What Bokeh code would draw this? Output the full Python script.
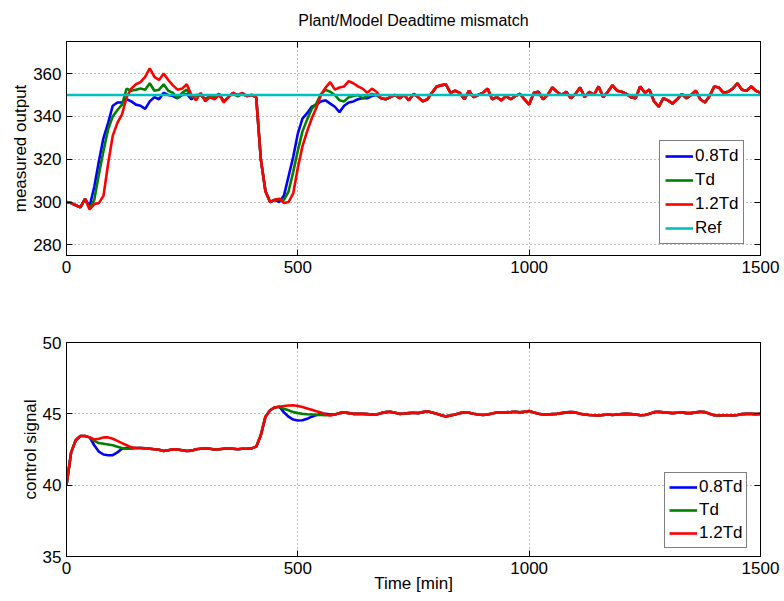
from bokeh.plotting import figure
from bokeh.models import (LinearAxis, Range1d, FixedTicker, Legend, LegendItem,
                          CustomJSTickFormatter, ColumnDataSource)
from bokeh.layouts import column
from bokeh.embed import file_html
from bokeh.resources import INLINE

# ---------------------------------------------------------------- data
# sample spacing of the logged signals [min]
STEP = 10

x_ticks = [0, 500, 1000, 1500]
y_ticks_top = [280, 300, 320, 340, 360]
y_ticks_bottom = [35, 40, 45, 50]

series_names = ["0.8Td", "Td", "1.2Td"]
reference_level = 350

# measured output, t = 0 .. 670 min
out_08td_head = [
    300, 299.5, 298.5, 297.5, 301.5, 298, 307, 319, 330, 337,
    345, 346.5, 346.5, 348, 347, 345.5, 345, 343.5, 347, 349,
    348, 351, 350, 349.5, 348.5, 350, 350.5, 348, 350, 350,
    348, 349.5, 349, 350.5, 347, 349, 351, 349.5, 350.5, 349.5,
    350, 349, 320, 305, 300, 301, 300, 303, 312, 321,
    332, 339, 341.5, 344.5, 345.5, 347, 347.5, 346, 344.5, 342,
    345, 346.5, 347, 348, 348.5, 348.5, 349.5, 350,
]
out_td_head = [
    300, 299.5, 298.5, 297.5, 301.5, 297, 301, 313, 324, 334,
    340, 343, 345.5, 353, 352, 352.5, 353, 352.5, 355.5, 352,
    352.5, 355, 352, 351, 348.5, 351, 352.5, 349, 349.5, 350,
    348, 349.5, 349, 350.5, 347, 349, 351, 349.5, 350.5, 349.5,
    350, 349, 320, 305, 300, 301, 301, 301, 305, 314,
    324, 333, 338.5, 343.5, 346, 350.5, 352.4, 351.5, 350, 347.5,
    347, 349, 349.5, 350, 348.5, 349.5, 350.5, 350,
]
out_12td_head = [
    300, 299.5, 298.5, 297.5, 301.5, 296.5, 299, 299.5, 303, 318,
    331, 337, 341, 349, 353, 355, 356, 358.5, 362.5, 358.5,
    357, 360, 357, 354.5, 352.5, 353, 355, 350, 347.5, 351,
    347, 349, 348, 350, 346.5, 349, 351, 350, 351, 349.5,
    350, 349, 320, 305, 300, 301, 301.5, 299.5, 300, 304,
    316, 326, 333, 339, 344, 350, 353.5, 356, 352.5, 353.5,
    354, 356.5, 355.5, 354, 353, 351, 353, 351.5,
]
# measured output once the loops have settled, t = 680 .. 1500 min
out_tail = [
    348.5, 348, 349, 350, 348.5, 350, 347.5, 350.5, 349, 347,
    348, 351, 354, 354.5, 355, 351, 352, 351, 348, 352,
    349, 350, 351, 353, 348, 349, 347.5, 349.5, 348, 349.5,
    350.5, 348, 345.5, 351, 351.5, 348, 350, 353.5, 351.5, 350,
    351.5, 348.5, 350.5, 353.5, 349, 351.5, 350, 354, 349, 351.5,
    354.5, 352, 351.5, 350.5, 349, 348.5, 354, 351, 352.5, 347,
    344.5, 348.5, 347.5, 346, 348, 350.5, 348.5, 350, 352, 348,
    346.5, 349.5, 354, 353.5, 351, 351.5, 353, 355.5, 352.5, 352,
    354, 352, 351,
]

# control signal, t = 0 .. 50 min
u_start = [40.0, 42.3, 43.15, 43.45, 43.45, 43.35]
# t = 60 .. 140 min
u_08td_a = [42.8, 42.35, 42.15, 42.1, 42.1, 42.3, 42.55, 42.6, 42.6]
u_td_a = [43.1, 42.95, 42.9, 42.85, 42.8, 42.7, 42.6, 42.55, 42.55]
u_12td_a = [43.2, 43.25, 43.35, 43.35, 43.25, 43.1, 42.95, 42.8, 42.65]
# t = 150 .. 460 min
u_plateau = [
    42.6, 42.6, 42.58, 42.55, 42.52, 42.48, 42.4, 42.45, 42.52, 42.5,
    42.45, 42.4, 42.42, 42.52, 42.55, 42.58, 42.55, 42.5, 42.52, 42.55,
    42.58, 42.55, 42.52, 42.55, 42.55, 42.58, 42.7, 43.5, 44.8, 45.25,
    45.45, 45.5,
]
# t = 470 .. 570 min
u_08td_b = [45.1, 44.8, 44.6, 44.53, 44.55, 44.65, 44.8, 44.92, 44.98, 45.0, 44.95]
u_td_b = [45.35, 45.25, 45.12, 45.05, 45.0, 44.97, 44.95, 44.93, 44.92, 44.9, 44.92]
u_12td_b = [45.55, 45.58, 45.6, 45.55, 45.48, 45.38, 45.28, 45.18, 45.1, 44.95, 44.88]
# t = 580 .. 1500 min
u_tail = [
    44.95, 45.05, 45.1, 45.05, 45.0, 45.0, 45.0, 44.98, 44.95, 44.95,
    45.05, 45.12, 45.15, 45.08, 45.0, 45.02, 45.05, 45.08, 45.05, 45.12,
    45.18, 45.1, 45.0, 44.9, 44.82, 44.88, 44.95, 45.05, 45.1, 45.08,
    45.0, 44.95, 44.92, 44.95, 45.02, 45.1, 45.1, 45.1, 45.12, 45.15,
    45.1, 45.15, 45.2, 45.1, 45.0, 44.95, 44.95, 44.98, 45.0, 45.05,
    45.1, 45.12, 45.1, 45.0, 44.95, 44.92, 44.9, 44.88, 44.92, 44.95,
    44.92, 44.95, 44.98, 45.0, 44.98, 44.95, 44.9, 44.92, 45.0, 45.12,
    45.15, 45.1, 45.08, 45.05, 45.08, 45.1, 45.05, 45.05, 45.1, 45.15,
    45.12, 45.0, 44.9, 44.88, 44.9, 44.9, 44.88, 44.92, 44.98, 45.0,
    45.0, 44.98, 45.0,
]

y_out = {
    "0.8Td": out_08td_head + out_tail,
    "Td": out_td_head + out_tail,
    "1.2Td": out_12td_head + out_tail,
}
u_ctrl = {
    "0.8Td": u_start + u_08td_a + u_plateau + u_08td_b + u_tail,
    "Td": u_start + u_td_a + u_plateau + u_td_b + u_tail,
    "1.2Td": u_start + u_12td_a + u_plateau + u_12td_b + u_tail,
}

# ---------------------------------------------------------------- style
COLORS = {"0.8Td": "#0000ff", "Td": "#008000", "1.2Td": "#ff0000"}
REF_COLOR = "#00bfbf"
FONT = "Liberation Sans"
LW = 2.6
TICK_FS = "17px"
LABEL_FS = "17px"


def times(values):
    return [STEP * i for i in range(len(values))]


def style_axis(ax, show_labels=True):
    ax.major_tick_in = 6
    ax.major_tick_out = 0
    ax.minor_tick_line_color = None
    ax.axis_line_color = "black"
    ax.major_tick_line_color = "black"
    if show_labels:
        ax.major_label_text_font = FONT
        ax.major_label_text_font_size = TICK_FS
        ax.major_label_text_color = "black"
        ax.major_label_standoff = 5
        ax.axis_label_text_font = FONT
        ax.axis_label_text_font_size = LABEL_FS
        ax.axis_label_text_font_style = "normal"
        ax.axis_label_text_color = "black"
    else:
        ax.formatter = CustomJSTickFormatter(code="return ''")
        ax.major_label_standoff = 0
        ax.major_label_text_font_size = "1px"


def make_axes(p, xticks, yticks):
    """MATLAB-like box: labelled axes left/below, tick-only axes right/above."""
    p.x_range = Range1d(0, 1500)
    xb = p.below[0]
    yl = p.left[0]
    xb.ticker = FixedTicker(ticks=xticks)
    yl.ticker = FixedTicker(ticks=yticks)
    style_axis(xb)
    style_axis(yl)
    yl.axis_label_standoff = 0
    right = LinearAxis(ticker=FixedTicker(ticks=yticks))
    above = LinearAxis(ticker=FixedTicker(ticks=xticks))
    style_axis(right, False)
    style_axis(above, False)
    p.add_layout(right, "right")
    p.add_layout(above, "above")
    for g in (p.xgrid[0], p.ygrid[0]):
        g.grid_line_color = "#6e6e6e"
        g.grid_line_dash = "1 3"
        g.grid_line_width = 1
        g.grid_line_alpha = 0.9
    p.xgrid.ticker = FixedTicker(ticks=xticks)
    p.ygrid.ticker = FixedTicker(ticks=yticks)
    p.outline_line_color = "black"
    p.outline_line_width = 1
    p.background_fill_color = "white"
    p.border_fill_color = "white"
    return xb, yl


def make_legend(p, items, loc, padding, spacing):
    leg = Legend(items=items, location=loc)
    leg.label_text_font = FONT
    leg.label_text_font_size = "17px"
    leg.label_text_color = "black"
    leg.glyph_width = 28
    leg.glyph_height = 20
    leg.label_height = 20
    leg.label_standoff = 2
    leg.spacing = spacing
    leg.padding = padding
    leg.margin = 0
    leg.border_line_color = "black"
    leg.border_line_width = 1
    leg.background_fill_color = "white"
    leg.background_fill_alpha = 1
    p.add_layout(leg, "center")


# ---------------------------------------------------------------- top: measured output
top = figure(width=784, height=300, output_backend="svg", toolbar_location=None,
             y_range=Range1d(275, 375), min_border_left=66, min_border_right=24,
             min_border_top=41, min_border_bottom=45,
             title="Plant/Model Deadtime mismatch")
top.title.text_font = FONT
top.title.text_font_size = "16px"
top.title.text_font_style = "normal"
top.title.text_color = "black"
top.title.align = "center"
top.title.vertical_align = "top"
top.title.standoff = 21
_, top_y = make_axes(top, x_ticks, y_ticks_top)
top_y.axis_label = "measured output"

top_items = []
for name in series_names:
    src = ColumnDataSource(dict(t=times(y_out[name]), y=y_out[name]))
    r = top.line("t", "y", source=src, line_color=COLORS[name], line_width=LW)
    top_items.append(LegendItem(label=name, renderers=[r]))
ref_src = ColumnDataSource(dict(t=[0, 1500], y=[reference_level, reference_level]))
r_ref = top.line("t", "y", source=ref_src, line_color=REF_COLOR, line_width=LW)
top_items.append(LegendItem(label="Ref", renderers=[r_ref]))
make_legend(top, top_items, (593, 11), padding=5, spacing=4)

# ---------------------------------------------------------------- bottom: control signal
bot = figure(width=784, height=301, output_backend="svg", toolbar_location=None,
             y_range=Range1d(35, 50), min_border_left=66, min_border_right=24,
             min_border_top=42, min_border_bottom=45)
bot_x, bot_y = make_axes(bot, x_ticks, y_ticks_bottom)
bot_y.axis_label = "control signal"
bot_x.axis_label = "Time [min]"
bot_x.axis_label_standoff = -3

bot_items = []
for name in series_names:
    src = ColumnDataSource(dict(t=times(u_ctrl[name]), u=u_ctrl[name]))
    r = bot.line("t", "u", source=src, line_color=COLORS[name], line_width=LW)
    bot_items.append(LegendItem(label=name, renderers=[r]))
make_legend(bot, bot_items, (598, 8), padding=4, spacing=3)

layout = column(top, bot, spacing=0)
open("out.html", "w").write(file_html(layout, INLINE))
